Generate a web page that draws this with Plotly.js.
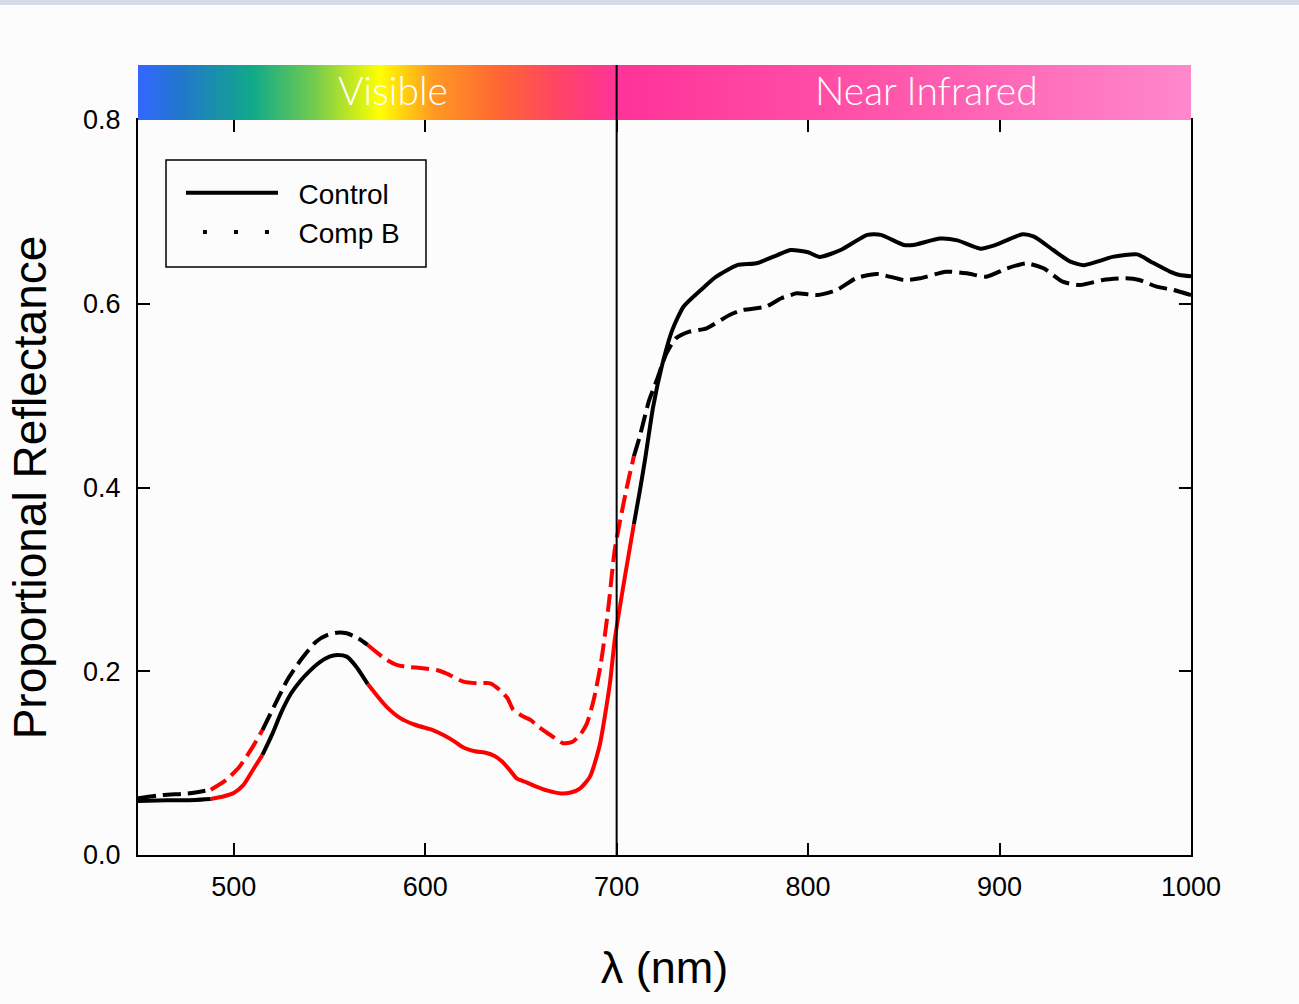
<!DOCTYPE html>
<html>
<head>
<meta charset="utf-8">
<script src="https://cdn.plot.ly/plotly-3.0.1.min.js"></script>
<style>html,body{margin:0;padding:0;background:#fcfcfc;}</style>
</head>
<body>
<div id="chart" style="width:1299px;height:1004px;"></div>
<script>
// ---- data ----
const controlX = [450,465,480,488,495,500,505,510,515,520,525,530,535,540,545,550,554,559,564,570,575,580,587,595,604,610,615,620,626,632,636,640,644,648,653,658,664,671,676,681,686,691,696.5,699,704,709,712,715,719,723.5,729,735,744,752,763,773,784,791,800,806,817,831,838,850,855,869,878,890,898,912,918,928,937,944,951,959,972,979,989,994,1000];
const controlY = [0.0588,0.0595,0.0600,0.0610,0.0640,0.0675,0.0760,0.0925,0.109,0.131,0.156,0.176,0.190,0.201,0.210,0.2160,0.2177,0.2159,0.205,0.186,0.173,0.161,0.149,0.1415,0.136,0.130,0.124,0.117,0.113,0.111,0.108,0.102,0.093,0.083,0.079,0.0744,0.070,0.067,0.068,0.0726,0.085,0.118,0.187,0.234,0.299,0.360,0.395,0.4325,0.487,0.531,0.571,0.597,0.615,0.6295,0.642,0.644,0.653,0.6585,0.656,0.651,0.6585,0.675,0.675,0.664,0.664,0.671,0.669,0.660,0.664,0.6756,0.673,0.6585,0.6458,0.642,0.6458,0.651,0.6537,0.6458,0.635,0.6313,0.630];

const compBX = [450,463,477,488,496,503,510,515,521,528,535,543,549,554,559,565,570,575,580,585,590,600,606,611,620,627,634,639,643,646,651,655,659,664,668,672,677,681,684.5,688,691.5,694,696,699,705,709,712,717,721,726,731,738,747,759,766,778,786,791,794,805,815,825,836,850,858.5,872,883,893,904,914,923,933,942,954,966,973,982,991,1000];
const compBY = [0.0617,0.0653,0.0672,0.0710,0.0816,0.0961,0.118,0.136,0.1614,0.1905,0.2122,0.2322,0.2395,0.242,0.2413,0.236,0.2286,0.220,0.2122,0.207,0.205,0.2030,0.2014,0.1977,0.1887,0.1869,0.1869,0.1796,0.1706,0.158,0.151,0.147,0.140,0.1325,0.127,0.1216,0.1233,0.131,0.1433,0.1687,0.205,0.2413,0.275,0.332,0.397,0.434,0.455,0.495,0.517,0.546,0.5624,0.5696,0.5733,0.5878,0.5932,0.5968,0.606,0.6095,0.6114,0.6095,0.615,0.6277,0.6324,0.6259,0.6277,0.6349,0.6331,0.6295,0.6386,0.644,0.6386,0.624,0.6204,0.6259,0.6277,0.6259,0.6186,0.615,0.6095];

// wavelength bands drawn in red
const redBands = [[488, 515], [570, 709]];
// spectrum bar
const regionBoundary = 700;
const spectrumStops = [450, 472, 510, 543, 576, 604, 638, 670, 700, 840, 1000];
const spectrumColors = ['#3366ff','#2277cc','#11aa88','#77cc4c','#ffff00','#ff9922','#ff6633','#ff4466','#ff3399','#ff55aa','#ff88cc'];
const regionLabels = ['Visible', 'Near Infrared'];
const regionLabelX = [583, 862];
const seriesNames = ['Control', 'Comp B'];

// ---- build traces ----
function inRed(v){ return redBands.some(b => v >= b[0] && v <= b[1]); }
function segments(xs, ys, dash){
  const out = [];
  let cur = null;
  for (let i = 0; i < xs.length - 1; i++){
    const red = inRed((xs[i] + xs[i+1]) / 2);
    if (!cur || cur.red !== red){
      cur = {red: red, x: [xs[i]], y: [ys[i]]};
      out.push(cur);
    }
    cur.x.push(xs[i+1]); cur.y.push(ys[i+1]);
  }
  return out.map(s => ({
    type: 'scatter', mode: 'lines', x: s.x, y: s.y,
    xaxis: 'x', yaxis: 'y', showlegend: false, hoverinfo: 'skip',
    line: {color: s.red ? '#ff0000' : '#000000', width: 4, dash: dash, shape: 'spline', smoothing: 0.6}
  }));
}

const zmin = spectrumStops[0], zmax = spectrumStops[spectrumStops.length - 1];
const colorscale = spectrumStops.map((s, i) => [(s - zmin) / (zmax - zmin), spectrumColors[i]]);
const pad = '\u00A0\u00A0';

const traces = [
  {
    type: 'heatmap', x: spectrumStops, y: [0, 1], z: [spectrumStops, spectrumStops],
    xaxis: 'x2', yaxis: 'y2', colorscale: colorscale, zmin: zmin, zmax: zmax,
    zsmooth: 'best', showscale: false, hoverinfo: 'skip'
  },
  ...segments(controlX, controlY, 'solid'),
  ...segments(compBX, compBY, '18px,7px'),
  {type:'scatter', mode:'lines', x:[null], y:[null], name: pad + seriesNames[0], line:{color:'#000', width:4, dash:'solid'}},
  {type:'scatter', mode:'lines', x:[null], y:[null], name: pad + seriesNames[1], line:{color:'#000', width:4, dash:'0px,17px,4px,10px'}}
];

const font = 'Arial, "Liberation Sans", sans-serif';
const mainTop = 735 / 790;

const layout = {
  width: 1299, height: 1004,
  margin: {l: 138, r: 108, t: 65, b: 149, pad: 0},
  paper_bgcolor: '#fcfcfc', plot_bgcolor: '#fcfcfc',
  font: {family: font, color: '#000'},
  showlegend: true,
  legend: {
    x: 0.0408, y: 0.8696, xanchor: 'left', yanchor: 'top',
    bgcolor: 'rgba(0,0,0,0)', borderwidth: 0,
    font: {family: font, size: 28, color: '#000'},
    itemwidth: 92, tracegroupgap: 0
  },
  xaxis: {
    domain: [0, 1], range: [450, 1000], dtick: 100, tick0: 0,
    ticks: 'inside', ticklen: 12, tickwidth: 2, tickcolor: '#000',
    showline: true, linewidth: 2, linecolor: '#000', mirror: 'ticks',
    showgrid: false, zeroline: false, ticklabelstandoff: 7,
    tickfont: {family: font, size: 27, color: '#000'},
    title: {text: 'λ (nm)', font: {family: font, size: 45, color: '#000'}, standoff: 50},
    anchor: 'y'
  },
  yaxis: {
    domain: [0, mainTop], range: [0, 0.8], dtick: 0.2, tickformat: '.1f',
    ticks: 'inside', ticklen: 12, tickwidth: 2, tickcolor: '#000',
    showline: true, linewidth: 2, linecolor: '#000', mirror: 'ticks',
    showgrid: false, zeroline: false, ticklabelstandoff: 10,
    tickfont: {family: font, size: 27, color: '#000'},
    title: {text: 'Proportional Reflectance', font: {family: font, size: 46, color: '#000'}, standoff: 22},
    anchor: 'x'
  },
  xaxis2: {domain: [0, 1], range: [450, 1000], visible: false, anchor: 'y2', fixedrange: true},
  yaxis2: {domain: [mainTop, 1], range: [0, 1], visible: false, anchor: 'x2', fixedrange: true},
  shapes: [
    {type: 'line', xref: 'x', yref: 'paper', x0: regionBoundary, x1: regionBoundary, y0: 0, y1: 1,
     line: {color: '#000', width: 2}, layer: 'above'},
    {type: 'rect', xref: 'paper', yref: 'paper', x0: -0.2, x1: 1.2, y0: 1.0759, y1: 1.12,
     fillcolor: '#d6dce6', line: {width: 0}},
    {type: 'rect', xref: 'paper', yref: 'paper', x0: 0.0266, x1: 0.2735, y0: 0.7443, y1: 0.8797,
     fillcolor: 'rgba(0,0,0,0)', line: {color: '#000', width: 1.5}, layer: 'above'}
  ],
  annotations: regionLabels.map((t, i) => ({
    text: t, x: regionLabelX[i], y: 0.54, xref: 'x2', yref: 'y2', showarrow: false,
    font: {family: 'Lato, "Open Sans", sans-serif', size: 39, color: '#ffffff', weight: 300}
  }))
};

Plotly.newPlot('chart', traces, layout, {displayModeBar: false, staticPlot: true});
</script>
</body>
</html>
